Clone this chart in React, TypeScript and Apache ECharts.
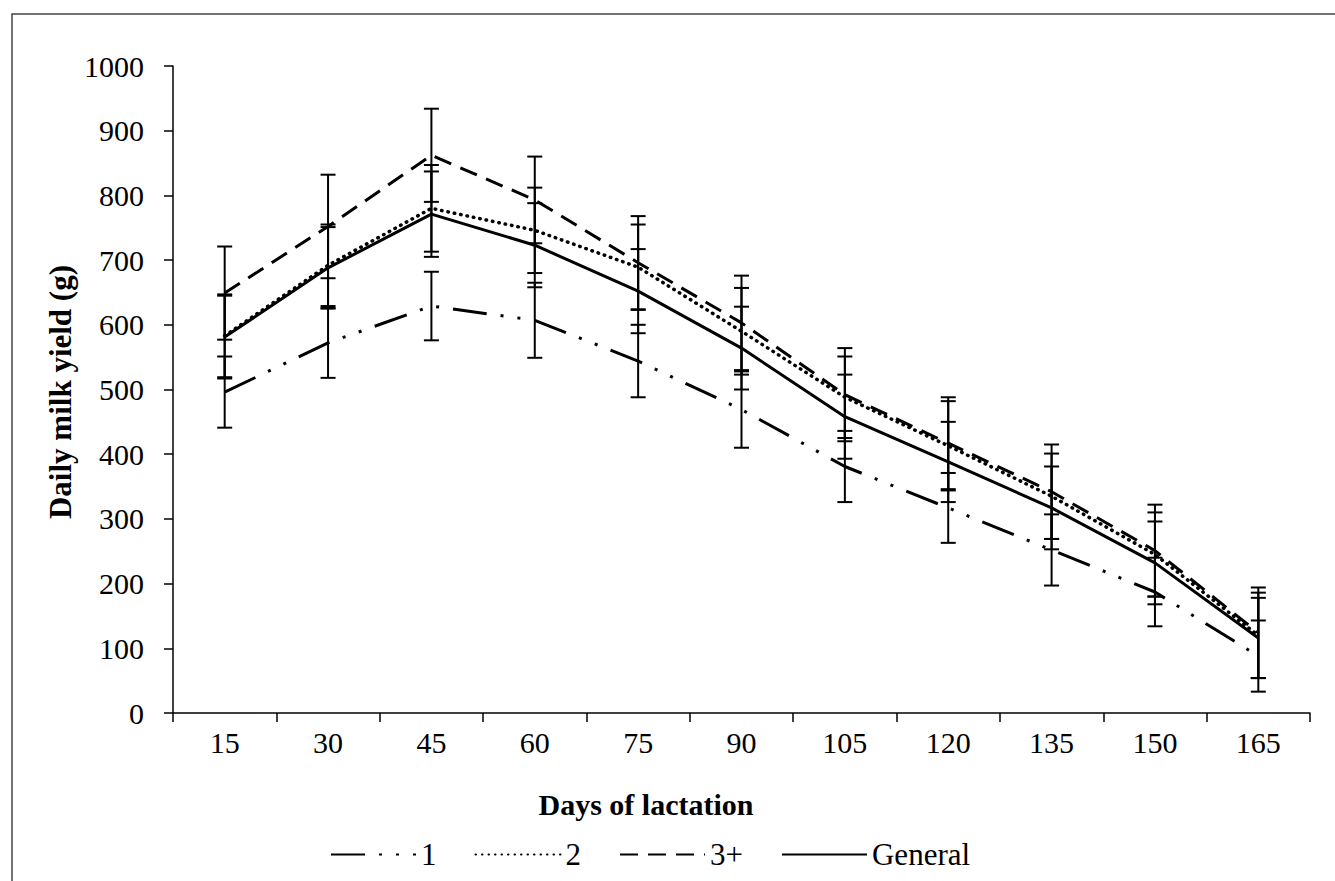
import React, { useEffect, useRef } from "react";
import * as echarts from "echarts";

const days = ["15", "30", "45", "60", "75", "90", "105", "120", "135", "150", "165"];
const yTicks = [0, 100, 200, 300, 400, 500, 600, 700, 800, 900, 1000];

const parity1 = [496, 572, 629, 607, 544, 469, 381, 317, 252, 187, 88];
const parity2 = [583, 692, 780, 746, 689, 590, 488, 413, 335, 245, 120];
const parity3 = [649, 752, 862, 793, 696, 603, 492, 417, 342, 251, 124];
const general = [581, 688, 771, 723, 652, 564, 458, 388, 317, 232, 116];

const err1 = [55, 54, 53, 58, 56, 59, 55, 54, 55, 53, 55];
const err2 = [64, 63, 67, 66, 66, 67, 63, 69, 66, 65, 66];
const err3 = [72, 80, 72, 67, 72, 73, 72, 71, 73, 71, 70];
const errG = [64, 63, 66, 65, 65, 64, 65, 62, 64, 64, 62];

const seriesNames = ["1", "2", "3+", "General"];
const FONT = "Liberation Serif";

function errorSeries(means: number[], errs: number[]) {
  return {
    type: "custom",
    silent: true,
    z: 3,
    data: means.map((m, i) => [i, m - errs[i], m + errs[i]]),
    renderItem: (params: any, api: any) => {
      const lo = api.coord([api.value(0), api.value(1)]);
      const hi = api.coord([api.value(0), api.value(2)]);
      const hw = 7.5;
      const st = { stroke: "#000", lineWidth: 2 };
      return {
        type: "group",
        children: [
          { type: "line", shape: { x1: lo[0], y1: lo[1], x2: hi[0], y2: hi[1] }, style: st },
          { type: "line", shape: { x1: lo[0] - hw, y1: lo[1], x2: lo[0] + hw, y2: lo[1] }, style: st },
          { type: "line", shape: { x1: hi[0] - hw, y1: hi[1], x2: hi[0] + hw, y2: hi[1] }, style: st },
        ],
      };
    },
  };
}

export default function App() {
  const ref = useRef<HTMLDivElement>(null);
  useEffect(() => {
    if (!ref.current) return;
    const chart = echarts.init(ref.current, null, { renderer: "svg" });
    const lineBase = { type: "line", symbol: "none", z: 4 };
    chart.setOption({
      animation: false,
      backgroundColor: "#fff",
      textStyle: { fontFamily: FONT, color: "#000" },
      grid: { left: 173, right: 25, top: 66, bottom: 168, containLabel: false },
      legend: {
        data: seriesNames,
        left: 325,
        top: 834,
        itemWidth: 85,
        itemHeight: 14,
        itemGap: 38,
        itemStyle: { color: "rgba(0,0,0,0)", borderWidth: 0 },
        textStyle: { fontFamily: FONT, fontSize: 31, color: "#000" },
      },
      xAxis: {
        type: "category",
        data: days,
        boundaryGap: true,
        axisLine: { lineStyle: { color: "#000", width: 1.5 } },
        axisTick: { show: true, interval: 0, length: 9, lineStyle: { color: "#000", width: 1.5 } },
        axisLabel: { fontFamily: FONT, fontSize: 30, color: "#000", margin: 14, interval: 0 },
        splitLine: { show: false },
      },
      yAxis: {
        type: "value",
        min: yTicks[0],
        max: yTicks[yTicks.length - 1],
        interval: 100,
        axisLine: { show: true, lineStyle: { color: "#000", width: 1.5 } },
        axisTick: { show: true, length: 9, lineStyle: { color: "#000", width: 1.5 } },
        axisLabel: {
          fontFamily: FONT,
          fontSize: 30,
          color: "#000",
          margin: 29,
          formatter: (v: number) => String(v),
        },
        splitLine: { show: false },
      },
      graphic: [
        {
          type: "rect",
          shape: { x: 12, y: 14, width: 1330, height: 900 },
          style: { fill: "none", stroke: "#444", lineWidth: 1.5 },
          silent: true,
          z: -10,
        },
        {
          type: "text",
          x: 646,
          y: 804,
          style: {
            text: "Days of lactation",
            font: `bold 30px "${FONT}"`,
            fill: "#000",
            align: "center",
            verticalAlign: "middle",
          },
        },
        {
          type: "text",
          x: 60,
          y: 392,
          rotation: Math.PI / 2,
          style: {
            text: "Daily milk yield (g)",
            font: `bold 31px "${FONT}"`,
            fill: "#000",
            align: "center",
            verticalAlign: "middle",
          },
        },
      ],
      series: [
        {
          ...lineBase,
          name: "1",
          data: parity1,
          lineStyle: { color: "#000", width: 3, type: [34, 14, 3, 14, 3, 14], cap: "butt" },
          itemStyle: { color: "#000" },
        },
        {
          ...lineBase,
          name: "2",
          data: parity2,
          lineStyle: { color: "#000", width: 3.5, type: [0.5, 6], cap: "round" },
          itemStyle: { color: "#000" },
        },
        {
          ...lineBase,
          name: "3+",
          data: parity3,
          lineStyle: { color: "#000", width: 3, type: [18, 10], cap: "butt" },
          itemStyle: { color: "#000" },
        },
        {
          ...lineBase,
          name: "General",
          data: general,
          lineStyle: { color: "#000", width: 3, type: "solid" },
          itemStyle: { color: "#000" },
        },
        errorSeries(parity1, err1),
        errorSeries(parity2, err2),
        errorSeries(parity3, err3),
        errorSeries(general, errG),
      ],
    });
    return () => chart.dispose();
  }, []);
  return (
    <div
      ref={ref}
      style={{ position: "fixed", left: 0, top: 0, width: 1335, height: 881, background: "#fff" }}
    />
  );
}
